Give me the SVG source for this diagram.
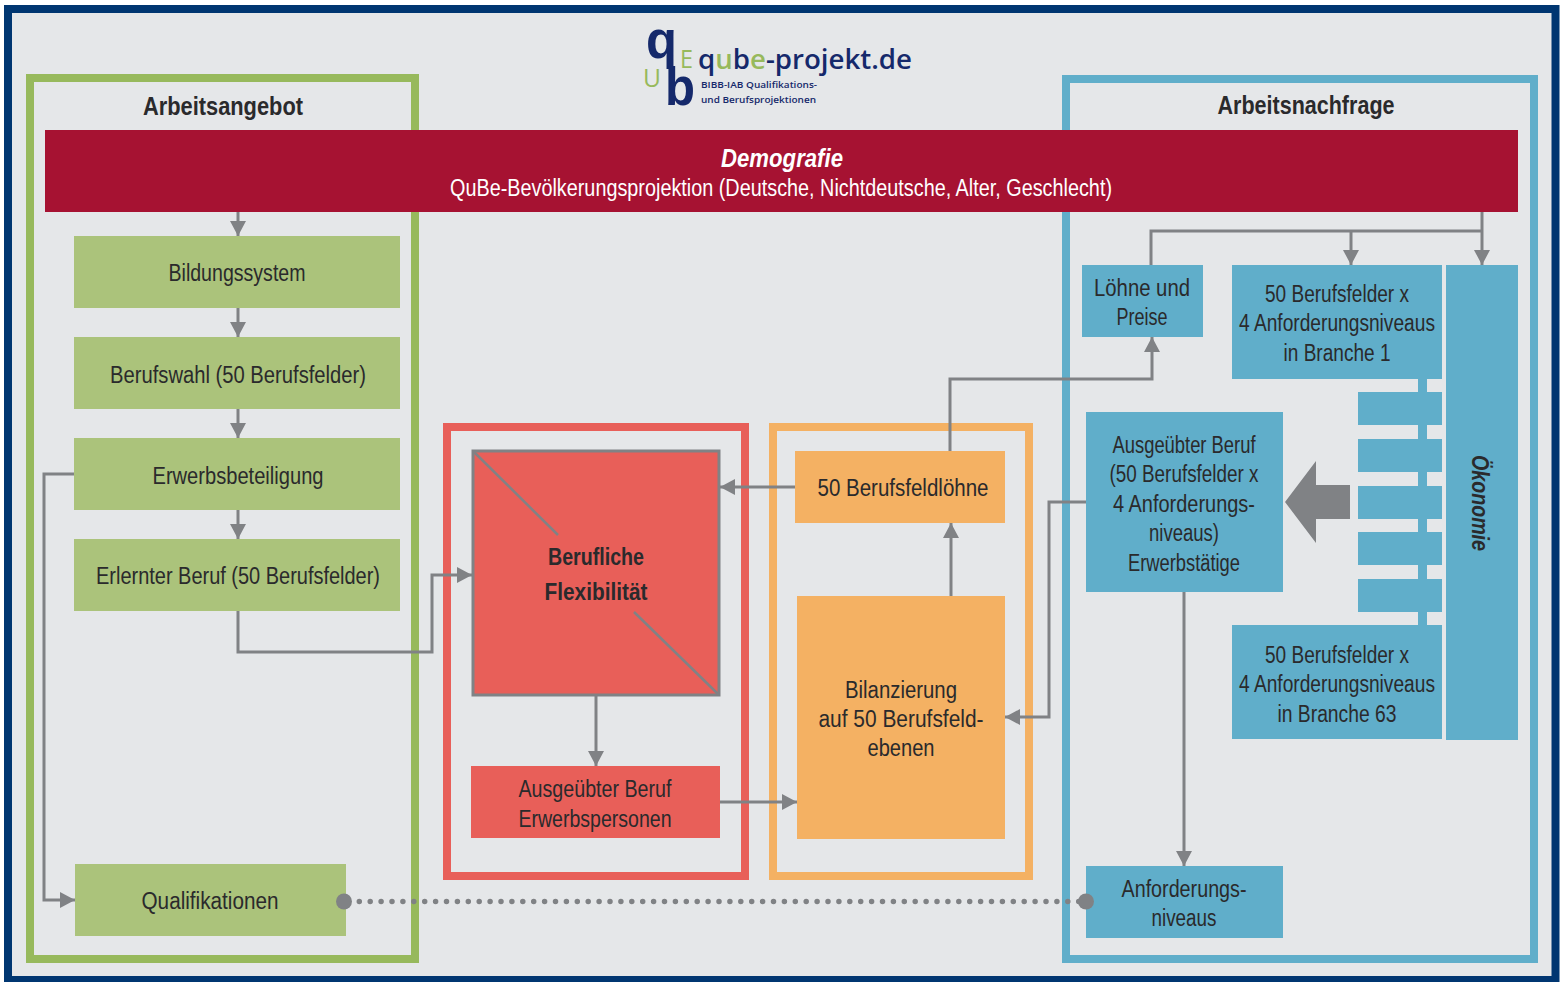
<svg xmlns="http://www.w3.org/2000/svg" width="1563" height="982" viewBox="0 0 1563 982">
<style>
text{font-family:"Liberation Sans Narrow","Liberation Sans",Arial,sans-serif;fill:#2a2a2c;font-size:23px;text-anchor:middle}
.b{font-weight:bold}
.g{fill:#abc37b}.t{fill:#60aeca}.r{fill:#e85f59}.o{fill:#f4b163}
.c{fill:none;stroke:#808285;stroke-width:3}
.l{font-family:"Open Sans",sans-serif;text-anchor:start;fill:#15296b}
.k{font-family:"Liberation Sans",sans-serif;font-weight:bold;font-size:54px;text-anchor:start;fill:#15296b}
.e{font-family:"Open Sans",sans-serif;font-size:25px;text-anchor:start;fill:#97b95c}
</style>
<defs><marker id="a" markerUnits="userSpaceOnUse" markerWidth="16" markerHeight="16" refX="15" refY="8" orient="auto"><path d="M0 0L15 8L0 16z" fill="#808285"/></marker></defs>
<rect width="1563" height="982" fill="#fff"/>
<rect x="8" y="9" width="1547.500" height="971" fill="#e5e7e9" stroke="#003671" stroke-width="8"/>
<rect x="30" y="78" width="385" height="881" fill="none" stroke="#97b95c" stroke-width="8"/>
<rect x="1066" y="79" width="468" height="880" fill="none" stroke="#60aeca" stroke-width="8"/>
<rect x="447" y="427" width="298" height="449" fill="none" stroke="#e85f59" stroke-width="8"/>
<rect x="773" y="427" width="256" height="449" fill="none" stroke="#f4b163" stroke-width="8"/>
<g id="logo">
<text class="k" x="646" y="58" textLength="31" lengthAdjust="spacingAndGlyphs">q</text>
<text class="k" x="665" y="105" textLength="30" lengthAdjust="spacingAndGlyphs">b</text>
<text class="e" x="680" y="68" textLength="13" lengthAdjust="spacingAndGlyphs">E</text>
<text class="e" x="643" y="87" textLength="18" lengthAdjust="spacingAndGlyphs">U</text>
<text class="l" x="698" y="69" style="font-size:27px;font-weight:600" textLength="214" lengthAdjust="spacingAndGlyphs">q<tspan style="fill:#97b95c">u</tspan>b<tspan style="fill:#97b95c">e</tspan>-projekt.de</text>
<text class="l" x="701" y="88" style="font-size:9px;font-weight:600" textLength="116" lengthAdjust="spacingAndGlyphs">BIBB-IAB Qualifikations-</text>
<text class="l" x="701" y="103" style="font-size:9px;font-weight:600" textLength="115" lengthAdjust="spacingAndGlyphs">und Berufsprojektionen</text>
</g>
<text class="b" x="223" y="115" style="font-size:25px" textLength="160" lengthAdjust="spacingAndGlyphs">Arbeitsangebot</text>
<text class="b" x="1306" y="114" style="font-size:25px" textLength="177" lengthAdjust="spacingAndGlyphs">Arbeitsnachfrage</text>
<g id="connectors">
<path class="c" d="M238 212V236" marker-end="url(#a)"/>
<path class="c" d="M238 308V337" marker-end="url(#a)"/>
<path class="c" d="M238 409V438" marker-end="url(#a)"/>
<path class="c" d="M238 510V539" marker-end="url(#a)"/>
<path class="c" d="M238 611V652H432V575H472" marker-end="url(#a)"/>
<path class="c" d="M74 474H44V900H75" marker-end="url(#a)"/>
<path class="c" d="M596 696V766" marker-end="url(#a)"/>
<path class="c" d="M720 802H797" marker-end="url(#a)"/>
<path class="c" d="M795 487H720" marker-end="url(#a)"/>
<path class="c" d="M951 596V523" marker-end="url(#a)"/>
<path class="c" d="M950 451V379H1152V337" marker-end="url(#a)"/>
<path class="c" d="M1086 502H1049V717H1005" marker-end="url(#a)"/>
<path class="c" d="M1184 592V866" marker-end="url(#a)"/>
<path class="c" d="M1482 212V265" marker-end="url(#a)"/>
<path class="c" d="M1151 265V231H1482"/>
<path class="c" d="M1351 231V265" marker-end="url(#a)"/>
<path d="M359.300 901.500H1086" fill="none" stroke="#808285" stroke-width="5.500" stroke-linecap="round" stroke-dasharray="0 10.900"/>
<path d="M1350 485V519H1316V543L1285 502L1316 461V485z" fill="#808285"/>
</g>
<g id="demografie"><rect x="45" y="130" width="1473" height="82" fill="#a61232"/>
<text class="b" x="782" y="167" style="fill:#fff;font-style:italic;font-size:25px" textLength="122" lengthAdjust="spacingAndGlyphs">Demografie</text>
<text x="781" y="196" style="fill:#fff" textLength="662" lengthAdjust="spacingAndGlyphs">QuBe-Bevölkerungsprojektion (Deutsche, Nichtdeutsche, Alter, Geschlecht)</text></g>
<g id="bildungssystem"><rect class="g" x="74" y="236" width="326" height="72"/><text x="237" y="281" textLength="137" lengthAdjust="spacingAndGlyphs">Bildungssystem</text></g>
<g id="berufswahl"><rect class="g" x="74" y="337" width="326" height="72"/><text x="238" y="383" textLength="256" lengthAdjust="spacingAndGlyphs">Berufswahl (50 Berufsfelder)</text></g>
<g id="erwerbsbeteiligung"><rect class="g" x="74" y="438" width="326" height="72"/><text x="238" y="484" textLength="171" lengthAdjust="spacingAndGlyphs">Erwerbsbeteiligung</text></g>
<g id="erlernter"><rect class="g" x="74" y="539" width="326" height="72"/><text x="238" y="584" textLength="284" lengthAdjust="spacingAndGlyphs">Erlernter Beruf (50 Berufsfelder)</text></g>
<g id="qualifikationen"><rect class="g" x="75" y="864" width="271" height="72"/><circle cx="344" cy="901.500" r="8" fill="#808285"/><text x="210" y="909" textLength="137" lengthAdjust="spacingAndGlyphs">Qualifikationen</text></g>
<g id="flexibilitaet"><rect class="r" x="473" y="451" width="246" height="244" stroke="#808285" stroke-width="3"/>
<path d="M474 452L558 535M634 612L718 694" fill="none" stroke="#808285" stroke-width="2.500"/>
<text class="b" x="596" y="565" textLength="96" lengthAdjust="spacingAndGlyphs">Berufliche</text>
<text class="b" x="596" y="600" textLength="103" lengthAdjust="spacingAndGlyphs">Flexibilität</text></g>
<g id="ausgeuebt-ep"><rect class="r" x="471" y="766" width="249" height="72"/><text x="595" y="797" textLength="153" lengthAdjust="spacingAndGlyphs">Ausgeübter Beruf</text><text x="595" y="827" textLength="153" lengthAdjust="spacingAndGlyphs">Erwerbspersonen</text></g>
<g id="loehne50"><rect class="o" x="795" y="451" width="210" height="72"/><text x="903" y="496" textLength="171" lengthAdjust="spacingAndGlyphs">50 Berufsfeldlöhne</text></g>
<g id="bilanzierung"><rect class="o" x="797" y="596" width="208" height="243"/><text x="901" y="698" textLength="112" lengthAdjust="spacingAndGlyphs">Bilanzierung</text><text x="901" y="727" textLength="165" lengthAdjust="spacingAndGlyphs">auf 50 Berufsfeld-</text><text x="901" y="756" textLength="67" lengthAdjust="spacingAndGlyphs">ebenen</text></g>
<g id="loehne"><rect class="t" x="1082" y="265" width="121" height="72"/><text x="1142" y="296" textLength="96" lengthAdjust="spacingAndGlyphs">Löhne und</text><text x="1142" y="325" textLength="51" lengthAdjust="spacingAndGlyphs">Preise</text></g>
<g id="branchen"><rect class="t" x="1418" y="379" width="9" height="246"/>
<rect class="t" x="1358" y="392" width="84" height="33"/><rect class="t" x="1358" y="439" width="84" height="33"/><rect class="t" x="1358" y="486" width="84" height="33"/><rect class="t" x="1358" y="532" width="84" height="33"/><rect class="t" x="1358" y="579" width="84" height="33"/></g>
<g id="branche1"><rect class="t" x="1232" y="265" width="210" height="114"/><text x="1337" y="302" textLength="144" lengthAdjust="spacingAndGlyphs">50 Berufsfelder x</text><text x="1337" y="331" textLength="196" lengthAdjust="spacingAndGlyphs">4 Anforderungsniveaus</text><text x="1337" y="361" textLength="107" lengthAdjust="spacingAndGlyphs">in Branche 1</text></g>
<g id="branche63"><rect class="t" x="1232" y="625" width="210" height="114"/><text x="1337" y="663" textLength="144" lengthAdjust="spacingAndGlyphs">50 Berufsfelder x</text><text x="1337" y="692" textLength="196" lengthAdjust="spacingAndGlyphs">4 Anforderungsniveaus</text><text x="1337" y="722" textLength="119" lengthAdjust="spacingAndGlyphs">in Branche 63</text></g>
<g id="oekonomie"><rect class="t" x="1446" y="265" width="72" height="475"/><text class="b" transform="translate(1472 503) rotate(90)" style="font-style:italic" textLength="96" lengthAdjust="spacingAndGlyphs">Ökonomie</text></g>
<g id="ausgeuebt-et"><rect class="t" x="1086" y="412" width="197" height="180"/><text x="1184" y="453" textLength="143" lengthAdjust="spacingAndGlyphs">Ausgeübter Beruf</text><text x="1184" y="482" textLength="149" lengthAdjust="spacingAndGlyphs">(50 Berufsfelder x</text><text x="1184" y="512" textLength="142" lengthAdjust="spacingAndGlyphs">4 Anforderungs-</text><text x="1184" y="541" textLength="70" lengthAdjust="spacingAndGlyphs">niveaus)</text><text x="1184" y="571" textLength="112" lengthAdjust="spacingAndGlyphs">Erwerbstätige</text></g>
<g id="anforderung"><rect class="t" x="1086" y="866" width="197" height="72"/><circle cx="1086" cy="901.500" r="8" fill="#808285"/><text x="1184" y="897" textLength="125" lengthAdjust="spacingAndGlyphs">Anforderungs-</text><text x="1184" y="926" textLength="65" lengthAdjust="spacingAndGlyphs">niveaus</text></g>
</svg>
